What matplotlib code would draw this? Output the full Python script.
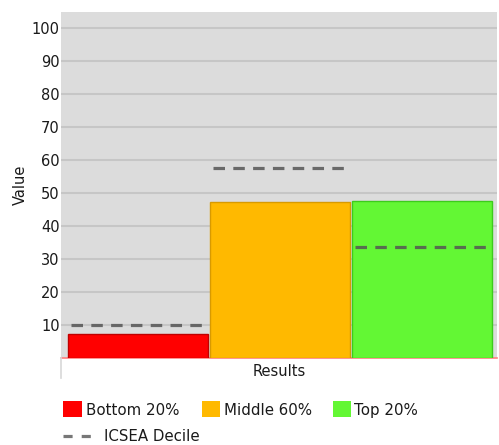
import matplotlib
matplotlib.use("Agg")
import matplotlib.pyplot as plt
from matplotlib.patches import Rectangle
from matplotlib.lines import Line2D

groups = ["Bottom 20%", "Middle 60%", "Top 20%"]
values = [7.3, 47.3, 47.5]
icsea = [10, 57.5, 33.7]
colors = ["#ff0000", "#ffb900", "#63f734"]
edges = ["#c00000", "#d89a00", "#3ccc1c"]
yticks = [10, 20, 30, 40, 50, 60, 70, 80, 90, 100]
category = "Results"
line_label = "ICSEA Decile"

W, H = 499, 445
fig = plt.figure(figsize=(W / 100, H / 100), dpi=100)
ax = fig.add_axes([61/W, 87/H, 436/W, 346/H])
ax.set_facecolor("#dcdcdc")

x = list(range(len(groups)))
ax.bar(x, values, width=0.985, color=colors, edgecolor=edges, linewidth=1, zorder=3)
for xi, v in zip(x, icsea):
    ax.plot([xi - 0.475, xi + 0.47], [v, v], color="#555555", alpha=0.85,
            linewidth=2.3, dashes=(3.6, 2.6), zorder=4)

ax.set_xlim(-0.542, 2.525)
ax.set_ylim(0, 104.85)
ax.set_yticks(yticks)
ax.set_yticklabels([str(t) for t in yticks], fontsize=10.5, color="#1a1a1a",
                   fontweight="medium")
ax.yaxis.grid(True, color="#c6c6c6", linewidth=1.5, zorder=0)
ax.set_axisbelow(True)
ax.tick_params(axis="y", length=0, pad=1)
ax.set_xticks([])
for s in ["top", "right", "left"]:
    ax.spines[s].set_visible(False)
ax.spines["bottom"].set_color("#ff8080")
ax.spines["bottom"].set_linewidth(1.2)
ax.set_ylabel("Value", fontsize=10.5, color="#1a1a1a", labelpad=3)
ax.set_xlabel(category, fontsize=10.5, color="#1a1a1a", labelpad=4)
# light vertical tick under the axis
fig.add_artist(Line2D([61/W, 61/W], [67/H, 87/H], color="#d8d8d8", linewidth=1.2))

# manual legend (figure pixel layout)
sq_x = [63.5, 201.5, 332.5]
for sx, c, lab in zip(sq_x, colors, groups):
    fig.add_artist(Rectangle((sx / W, 1 - 417 / H), 18 / W, 16 / H,
                             facecolor=c, edgecolor="none", transform=fig.transFigure))
    fig.text((sx + 22) / W, 1 - 410.5 / H, lab, fontsize=10.8, color="#1a1a1a",
             va="center", ha="left")
fig.add_artist(Line2D([63 / W, 91 / W], [1 - 436 / H, 1 - 436 / H], color="#777777",
                      linewidth=2.3, dashes=(2.85, 2.85), transform=fig.transFigure))
fig.text(104 / W, 1 - 436.5 / H, line_label, fontsize=10.8, color="#1a1a1a",
         va="center", ha="left")

fig.savefig("out.png", dpi=100)
